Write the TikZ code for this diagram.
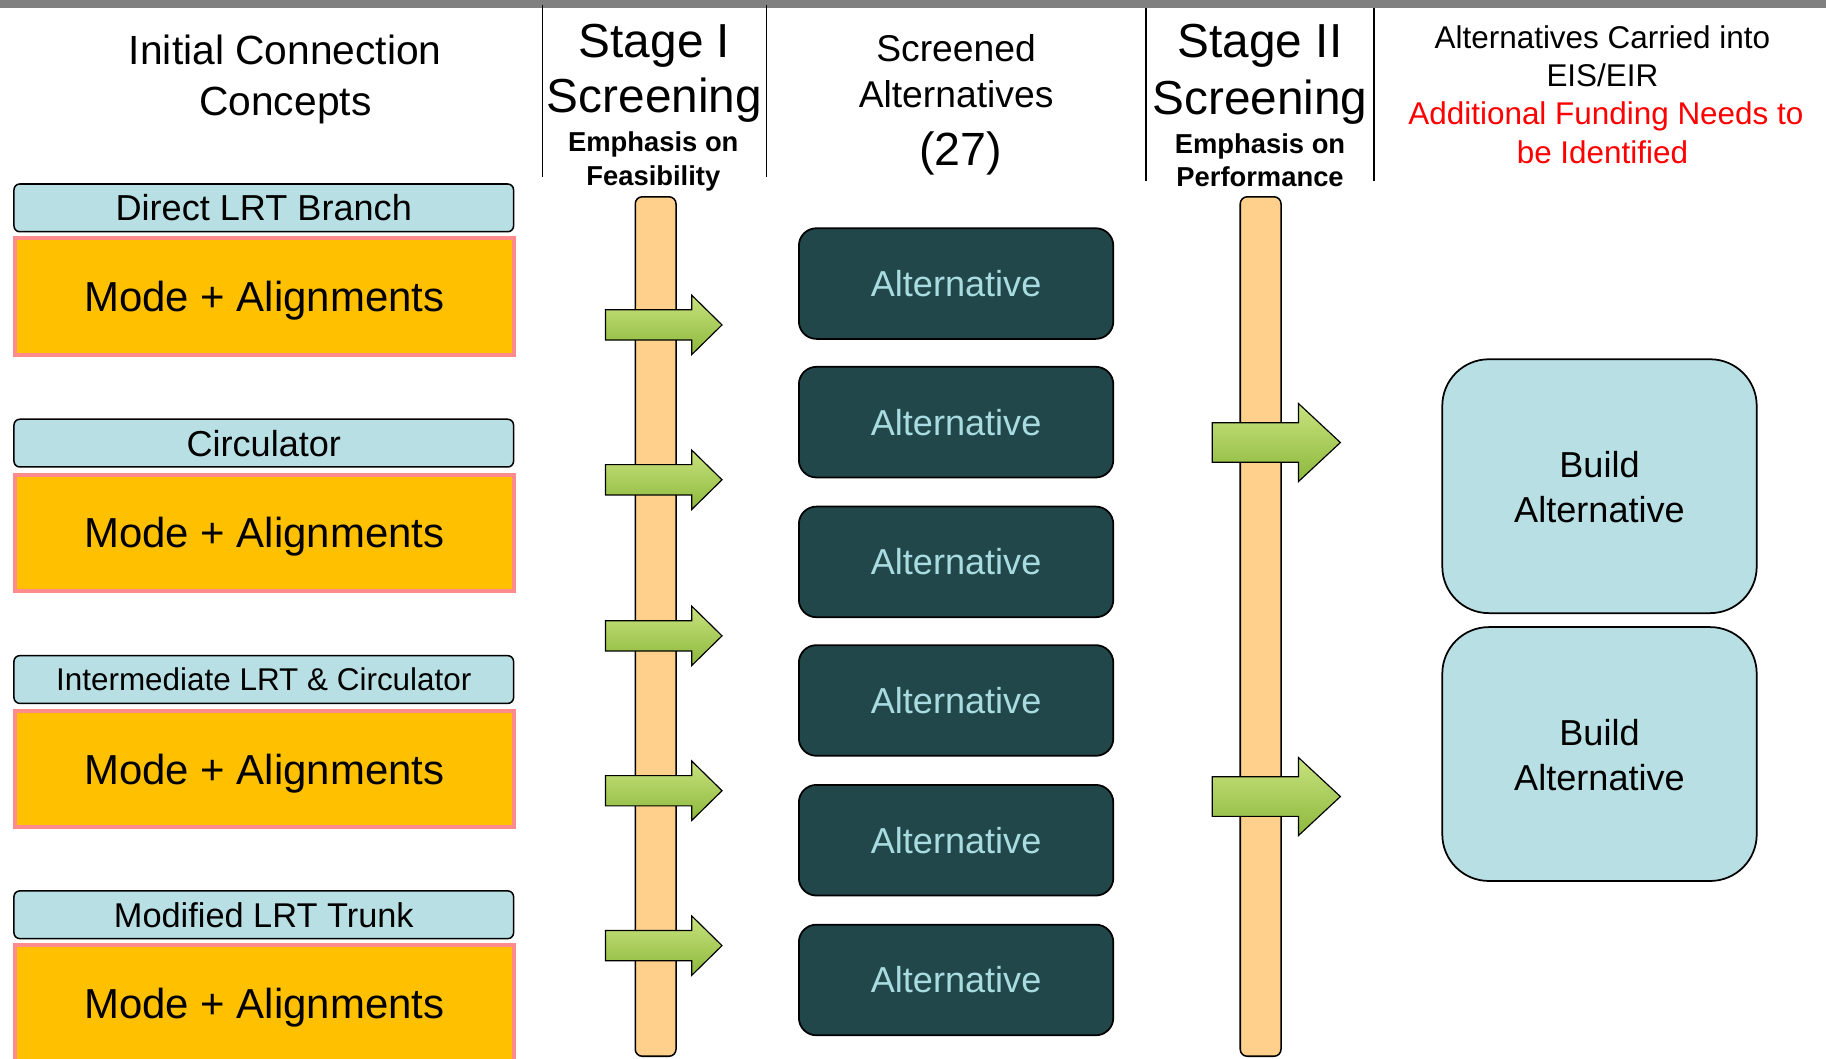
\documentclass[tikz,border=0pt]{standalone}
\usepackage{fontspec}
\setmainfont{Liberation Sans}
\definecolor{topgray}{RGB}{128,128,128}
\definecolor{lblue}{RGB}{184,224,228}
\definecolor{modeorange}{RGB}{255,192,0}
\definecolor{pinkb}{RGB}{255,140,140}
\definecolor{barfill}{RGB}{255,208,140}
\definecolor{altfill}{RGB}{33,71,74}
\definecolor{alttext}{RGB}{168,220,224}
\definecolor{gtop}{RGB}{200,226,126}
\definecolor{gbot}{RGB}{140,184,60}
\definecolor{fundred}{RGB}{255,0,0}
\begin{document}
\begin{tikzpicture}[x=1pt,y=-1pt,
  lbl/.style={draw=black, line width=1.3pt, fill=lblue, rounded corners=5pt, minimum width=429pt, minimum height=41pt, inner sep=0pt, font=\fontsize{31}{36}\selectfont, text height=22.2pt, text depth=0pt},
  modebox/.style={draw=pinkb, line width=3.5pt, fill=modeorange, minimum width=429pt, minimum height=100pt, inner sep=0pt, font=\fontsize{36}{42}\selectfont, text height=25.8pt, text depth=0pt},
  altbox/.style={draw=black, line width=1.5pt, fill=altfill, rounded corners=15pt, minimum width=270pt, minimum height=95pt, inner sep=0pt, text=alttext, font=\fontsize{31}{36}\selectfont, text height=22.2pt, text depth=0pt},
  buildbox/.style={draw=black, line width=1.5pt, fill=lblue, rounded corners=40pt, minimum width=270pt, minimum height=218pt, inner sep=0pt},
  buildtxt/.style={anchor=base, inner sep=0pt, font=\fontsize{31}{36}\selectfont},
  barbox/.style={draw=black, line width=1.3pt, fill=barfill, rounded corners=6pt, minimum width=35pt, inner sep=0pt},
  garrow/.style={top color=gtop, bottom color=gbot, draw=black, line width=1pt},
  hdr/.style={anchor=base, inner sep=0pt, font=\fontsize{35}{40}\selectfont},
  big/.style={anchor=base, inner sep=0pt, font=\fontsize{41}{46}\selectfont},
  emph/.style={anchor=base, inner sep=0pt, font=\bfseries\fontsize{23.5}{28}\selectfont},
  mid/.style={anchor=base, inner sep=0pt, font=\fontsize{32}{38}\selectfont},
  small/.style={anchor=base, inner sep=0pt, font=\fontsize{27}{32}\selectfont},
  sep/.style={line width=1.2pt}
]
\clip (0,0) rectangle (1568,909);
\fill[white] (0,0) rectangle (1568,909);
\fill[topgray] (0,0) rectangle (1568,7);

% separators
\draw[sep] (466,4) -- (466,152);
\draw[sep] (658,4) -- (658,152);
\draw[sep] (984,7) -- (984,155);
\draw[sep] (1180,7) -- (1180,155);

% headers
\node[hdr] (h1a) at (245,55) {Initial Connection};
\node[hdr] (h1b) at (245,99) {Concepts};
\node[big] (h2a) at (562,49) {Stage I};
\node[big] (h2b) at (562,97) {Screening};
\node[emph] (h2c) at (561,130.5) {Emphasis on};
\node[emph] (h2d) at (561,159) {Feasibility};
\node[mid] (h3a) at (821,53) {Screened};
\node[mid] (h3b) at (821,92) {Alternatives};
\node[anchor=base, inner sep=0pt, font=\fontsize{40}{46}\selectfont] (h3c) at (825,142) {(27)};
\node[big] (h4a) at (1082,49) {Stage II};
\node[big] (h4b) at (1082,98) {Screening};
\node[emph] (h4c) at (1082,132) {Emphasis on};
\node[emph] (h4d) at (1082,160.5) {Performance};
\node[small] (h5a) at (1376,41.5) {Alternatives Carried into};
\node[small] (h5b) at (1376,74.5) {EIS/EIR};
\node[small, text=fundred] (h5c) at (1379,106.5) {Additional Funding Needs to};
\node[small, text=fundred] (h5d) at (1376,140) {be Identified};

% left column
\node[lbl] (l1) at (226.5,178.5) {Direct LRT Branch};
\node[modebox] (m1) at (227,254.5) {Mode + Alignments};
\node[lbl] (l2) at (226.5,380.5) {Circulator};
\node[modebox] (m2) at (227,457.5) {Mode + Alignments};
\node[lbl, font=\fontsize{27}{32}\selectfont, text height=19.3pt] (l3) at (226.5,583.5) {Intermediate LRT \& Circulator};
\node[modebox] (m3) at (227,660.5) {Mode + Alignments};
\node[lbl, font=\fontsize{29.5}{34}\selectfont, text height=21.1pt] (l4) at (226.5,785.5) {Modified LRT Trunk};
\node[modebox] (m4) at (227,861.5) {Mode + Alignments};

% bars
\node[barbox, minimum height=738pt] (bar1) at (563,538) {};
\node[barbox, minimum height=738pt] (bar2) at (1082.5,538) {};

% stage I arrows
\foreach \c in {279,412,546,679,812}{
  \shadedraw[garrow] (520,\c-13) -- (594,\c-13) -- (594,\c-25.5) -- (620,\c) -- (594,\c+25.5) -- (594,\c+13) -- (520,\c+13) -- cycle;
}
% stage II arrows
\foreach \c in {380,684}{
  \shadedraw[garrow] (1041,\c-17) -- (1115,\c-17) -- (1115,\c-33.5) -- (1151,\c) -- (1115,\c+33.5) -- (1115,\c+17) -- (1041,\c+17) -- cycle;
}

% alternatives
\node[altbox] (a1) at (821,243.5) {Alternative};
\node[altbox] (a2) at (821,362.5) {Alternative};
\node[altbox] (a3) at (821,482.5) {Alternative};
\node[altbox] (a4) at (821,601.5) {Alternative};
\node[altbox] (a5) at (821,721.5) {Alternative};
\node[altbox] (a6) at (821,841.5) {Alternative};

% build alternatives
\node[buildbox] (b1) at (1373.5,417.5) {};
\node[buildtxt] (b1a) at (1373.5,410) {Build};
\node[buildtxt] (b1b) at (1373.5,449) {Alternative};
\node[buildbox] (b2) at (1373.5,647.5) {};
\node[buildtxt] (b2a) at (1373.5,640) {Build};
\node[buildtxt] (b2b) at (1373.5,679) {Alternative};
\end{tikzpicture}
\end{document}
